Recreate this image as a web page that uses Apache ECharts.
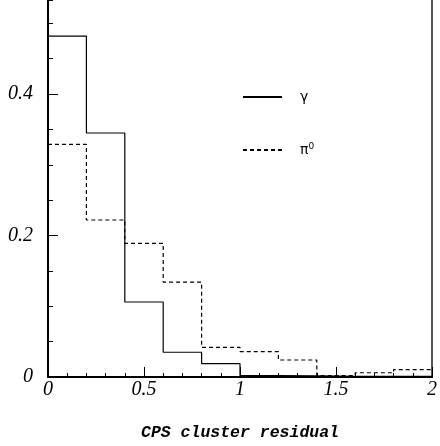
<!DOCTYPE html>
<html>
<head>
<meta charset="utf-8">
<script src="https://cdn.jsdelivr.net/npm/echarts@6/dist/echarts.min.js"></script>
<style>
  html, body { margin: 0; padding: 0; background: #fff; }
  #chart { width: 440px; height: 446px; }
</style>
</head>
<body>
<div id="chart"></div>
<script>
// Bin edges (left edges) of the residual histogram, bin width 0.2
const binEdges = [0, 0.2, 0.4, 0.6, 0.8, 1.0, 1.2, 1.4, 1.6, 1.8, 2.0];
// Normalised fractions per bin
const gammaValues = [0.482, 0.345, 0.106, 0.035, 0.019, 0.002, 0.0015, 0.001, 0.001, 0.001];
const pi0Values   = [0.329, 0.222, 0.189, 0.134, 0.042, 0.036, 0.024, 0.002, 0.006, 0.0105];
const yTickLabels = ['0', '0.2', '0.4'];
const xTickLabels = ['0', '0.5', '1', '1.5', '2'];

// step-histogram points: each bin's left edge at its value, closed at the last edge
function histPoints(vals) {
  const pts = vals.map((v, i) => [binEdges[i], v]);
  pts.push([binEdges[binEdges.length - 1], vals[vals.length - 1]]);
  return pts;
}

const Y_MAX = 0.533;
const tickFont = { fontFamily: 'Liberation Serif', fontStyle: 'italic', fontSize: 20, color: '#000' };

const chart = echarts.init(document.getElementById('chart'), null, { renderer: 'canvas' });
chart.setOption({
  backgroundColor: '#fff',
  animation: false,
  grid: { left: 48, right: 4, top: 0, bottom: 61, containLabel: false },
  legend: {
    orient: 'vertical',
    left: 242,
    top: 90,
    padding: 0,
    itemWidth: 39,
    itemHeight: 12,
    itemGap: 38,
    data: ['gamma', 'pi0'],
    itemStyle: { opacity: 0 },
    formatter: function (name) {
      return name === 'gamma' ? '{g|γ}' : '{p|π}{s|0}';
    },
    textStyle: {
      padding: [0, 0, 0, 13],
      rich: {
        g: { fontFamily: 'DejaVu Sans', fontSize: 14, color: '#000' },
        p: { fontFamily: 'DejaVu Sans', fontSize: 14, color: '#000' },
        s: { fontFamily: 'DejaVu Sans', fontSize: 9, color: '#000', verticalAlign: 'top', padding: [0, 0, 7, 0] }
      }
    }
  },
  xAxis: {
    type: 'value',
    min: 0,
    max: 2,
    interval: 0.5,
    name: 'CPS cluster residual',
    nameLocation: 'middle',
    nameGap: 47,
    nameTextStyle: { fontFamily: 'Liberation Mono', fontWeight: 'bold', fontStyle: 'italic', fontSize: 16.5, color: '#000' },
    axisLine: { show: true, lineStyle: { color: '#000', width: 2 } },
    axisTick: { show: true, inside: true, length: 10, lineStyle: { color: '#000', width: 1 } },
    minorTick: { show: true, splitNumber: 5, length: 4, lineStyle: { color: '#000', width: 1 } },
    axisLabel: Object.assign({
      margin: 3,
      showMaxLabel: true,
      formatter: function (v) {
        const i = Math.round(v / 0.5);
        return xTickLabels[i] !== undefined ? xTickLabels[i] : '';
      }
    }, tickFont),
    splitLine: { show: false }
  },
  yAxis: [
    {
      // major ticks with labels
      type: 'value',
      min: 0,
      max: Y_MAX,
      interval: 0.2,
      position: 'left',
      axisLine: { show: true, lineStyle: { color: '#000', width: 2 } },
      axisTick: { show: true, inside: true, length: 10, lineStyle: { color: '#000', width: 1 } },
      axisLabel: Object.assign({
        margin: 15,
        showMaxLabel: false,
        formatter: function (v) {
          const i = Math.round(v / 0.2);
          return Math.abs(v - i * 0.2) < 1e-6 && yTickLabels[i] !== undefined ? yTickLabels[i] : '';
        }
      }, tickFont),
      splitLine: { show: false }
    },
    {
      // minor ticks every 0.05
      type: 'value',
      min: 0,
      max: Y_MAX,
      interval: 0.05,
      position: 'left',
      offset: 0,
      axisLine: { show: false },
      axisTick: { show: true, inside: true, length: 5, lineStyle: { color: '#000', width: 1 } },
      axisLabel: { show: false },
      splitLine: { show: false }
    },
    {
      // right frame line
      type: 'value',
      min: 0,
      max: Y_MAX,
      position: 'right',
      axisLine: { show: true, lineStyle: { color: '#555', width: 2 } },
      axisTick: { show: false },
      axisLabel: { show: false },
      splitLine: { show: false }
    }
  ],
  series: [
    {
      name: 'gamma',
      type: 'line',
      step: 'end',
      yAxisIndex: 0,
      symbol: 'none',
      data: histPoints(gammaValues),
      lineStyle: { color: '#000', width: 1.2, type: 'solid' },
      itemStyle: { color: '#000' }
    },
    {
      name: 'pi0',
      type: 'line',
      step: 'end',
      yAxisIndex: 0,
      symbol: 'none',
      data: histPoints(pi0Values),
      lineStyle: { color: '#000', width: 1.2, type: [4, 3] },
      itemStyle: { color: '#000' }
    }
  ]
});
</script>
</body>
</html>
